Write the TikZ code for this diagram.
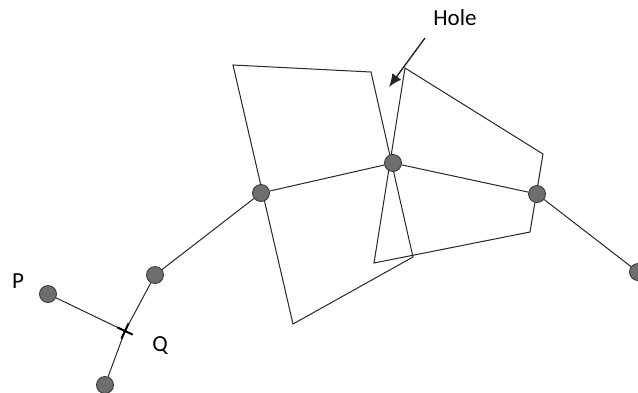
\documentclass[tikz,border=0pt]{standalone}
\usepackage{fontspec}
\setmainfont{Carlito}
\usetikzlibrary{arrows.meta}
\usetikzlibrary{shapes.misc}

\begin{document}
\begin{tikzpicture}[x=1pt,y=-1pt]
\tikzstyle{every node}=[font=\fontsize{23}{27}\selectfont]
\tikzstyle{vtx}=[circle,draw=black!80,fill=black!57,line width=0.8pt,inner sep=0pt,minimum size=17pt]
\tikzstyle{seg}=[draw=black!85,line width=1pt]
\useasboundingbox (0,0) rectangle (638,392);
% corners of the two cells
\coordinate (l1) at (233,65);
\coordinate (l2) at (371,72);
\coordinate (l3) at (413,257);
\coordinate (l4) at (293,324);
\coordinate (r1) at (405,68);
\coordinate (r2) at (543,154);
\coordinate (r3) at (530,232);
\coordinate (r4) at (374,263);
\draw[seg] (l1) -- (l2) -- (l3) -- (l4) -- cycle;
\draw[seg] (r1) -- (r2) -- (r3) -- (r4) -- cycle;
% vertices
\node[vtx] (p) at (48,294) {};
\node[vtx] (r) at (105,385) {};
\node[vtx] (s) at (155,275) {};
\node[vtx] (a) at (261,193) {};
\node[vtx] (b) at (393,163) {};
\node[vtx] (c) at (537,194) {};
\node[vtx] (d) at (638,272) {};
\coordinate (q) at (125,331);
\path[seg] (p) edge (q) (r) edge (q) (q) edge (s) (s) edge (a)
  (a) edge (b) (b) edge (c) (c) edge (d);
\node[draw=black,cross out,line width=2pt,minimum size=10pt,inner sep=0pt,rotate=20] (qx) at (q) {};
% labels
\node (plab) at (18,281) {P};
\node (qlab) at (160,346) {Q};
\node (hole) at (455,18) {Hole};
\coordinate (h0) at (425,38);
\coordinate (h1) at (389,87);
\path[->] (h0) edge [arrows={-Latex[length=13pt,width=11pt]},line width=1.4pt,black!85] (h1);
\end{tikzpicture}
\end{document}
